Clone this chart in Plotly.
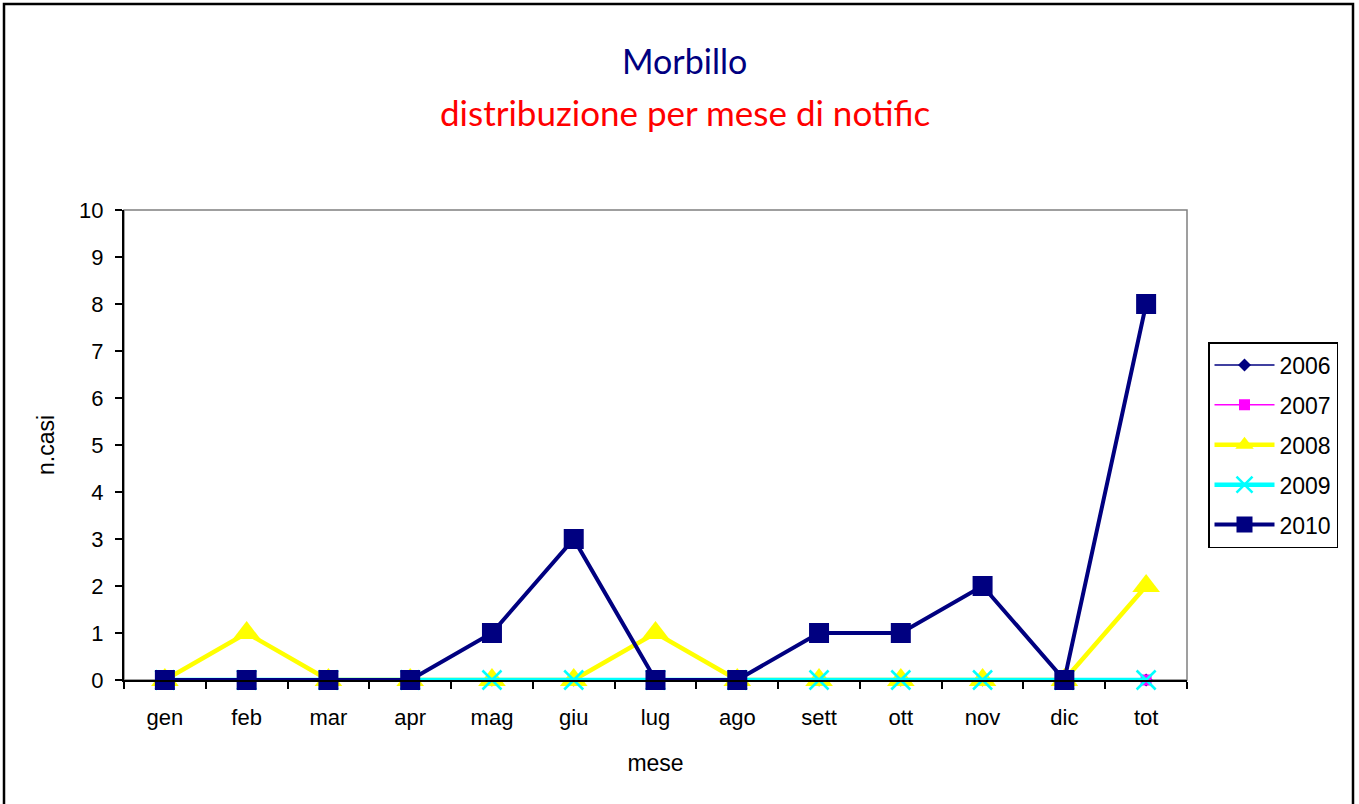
import plotly.graph_objects as go

months = ["gen", "feb", "mar", "apr", "mag", "giu", "lug", "ago", "sett", "ott", "nov", "dic", "tot"]
y2006 = [0, 0, 0, 0, 0, 0, 0, 0, 0, 0, 0, 0, 0]
y2007 = [0, 0, 0, 0, 0, 0, 0, 0, 0, 0, 0, 0, 0]
y2008 = [0, 1, 0, 0, 0, 0, 1, 0, 0, 0, 0, 0, 2]
y2009 = [0, 0, 0, 0, 0, 0, 0, 0, 0, 0, 0, 0, 0]
y2010 = [0, 0, 0, 0, 1, 3, 0, 0, 1, 1, 2, 0, 8]

series = [
    ("2006", y2006, "#000080", 1.5, "diamond", 10),
    ("2007", y2007, "#FF00FF", 1.5, "square", 11),
    ("2008", y2008, "#FFFF00", 4.5, "triangle-up", 24),
    ("2009", y2009, "#00FFFF", 4.5, "x-thin", 19),
    ("2010", y2010, "#000080", 4, "square", 20),
]

fig = go.Figure()
for i, (name, ys, col, lw, sym, ms) in enumerate(series):
    fig.add_trace(go.Scatter(
        x=months, y=ys, name=name, mode="lines+markers",
        line=dict(color=col, width=lw),
        marker=dict(symbol=sym, size=ms, color=col,
                    line=dict(color=col, width=2.5 if sym == "x-thin" else 0)),
        legendgroup=name, cliponaxis=False,
    ))

W, H = 1359, 804
L, R, T, B = 124, 172, 210, 124
pw, ph = W - L - R, H - T - B

def px(x):
    return (x - L) / pw

def py(y):
    return (H - B - y) / ph

fig.add_shape(type="rect", xref="paper", yref="paper", x0=0, x1=1, y0=0, y1=1,
              line=dict(color="#808080", width=1.5), layer="below")
fig.add_shape(type="rect", xref="paper", yref="paper",
              x0=px(4), x1=px(1353), y0=py(812), y1=py(4),
              line=dict(color="black", width=2.5))

fig.add_annotation(text="Morbillo", xref="paper", yref="paper", x=px(684), y=py(60),
                   xanchor="center", yanchor="middle",
                   showarrow=False, font=dict(family="Comic Sans MS, Lato", size=34, color="#000080"))
fig.add_annotation(text="distribuzione per mese di notific", xref="paper", yref="paper",
                   x=px(685), y=py(112), xanchor="center", yanchor="middle", showarrow=False,
                   font=dict(family="Comic Sans MS, Lato", size=35, color="#FF0000"))

fig.update_layout(
    width=W, height=H,
    margin=dict(l=L, r=R, t=T, b=B),
    paper_bgcolor="white", plot_bgcolor="white",
    font=dict(family="Arial, Liberation Sans", size=22, color="black"),
    showlegend=True,
    legend=dict(x=px(1208), y=py(342), xanchor="left", yanchor="top",
                bordercolor="black", borderwidth=1.5, bgcolor="white",
                font=dict(size=23), itemwidth=60, tracegroupgap=7,
                traceorder="grouped"),
    xaxis=dict(
        type="category", range=[-0.5, 12.5], showgrid=False,
        showline=True, linecolor="black", linewidth=2,
        ticks="outside", tickson="boundaries", ticklen=7, tickcolor="black", tickwidth=2,
        ticklabelstandoff=17, tickfont=dict(size=22),
        title=dict(text="mese", standoff=25, font=dict(size=23)), zeroline=False,
    ),
    yaxis=dict(
        range=[0, 10], dtick=1, showgrid=False, zeroline=False,
        showline=True, linecolor="black", linewidth=2,
        ticks="outside", ticklen=7, tickcolor="black", tickwidth=2,
        ticklabelstandoff=7, tickfont=dict(size=22),
        title=dict(text="n.casi", standoff=18, font=dict(size=23)),
    ),
)

fig.write_html("out.html", config={"displayModeBar": False},
               post_script="document.body.style.margin='0';")
